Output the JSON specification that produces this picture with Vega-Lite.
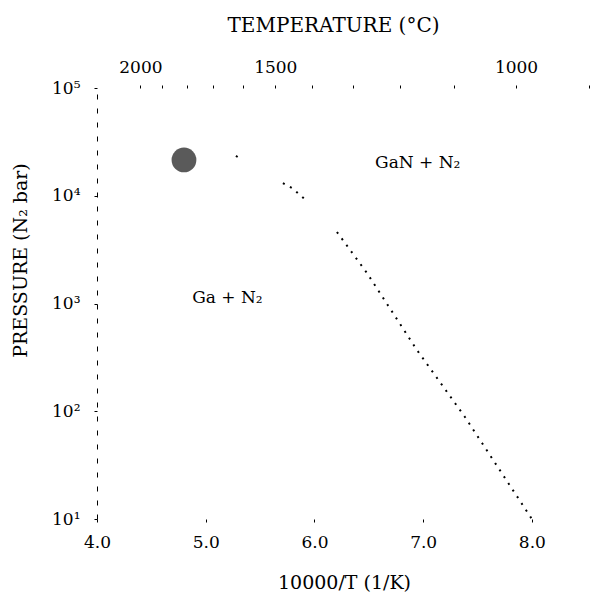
{
  "$schema": "https://vega.github.io/schema/vega-lite/v6.json",
  "width": 505,
  "height": 431,
  "autosize": "none",
  "padding": {"left": 97, "top": 88, "right": 5, "bottom": 73},
  "background": "white",
  "config": {
    "font": "DejaVu Serif",
    "view": {"stroke": null},
    "axis": {
      "labelFont": "DejaVu Serif",
      "titleFont": "DejaVu Serif",
      "labelColor": "black",
      "titleColor": "black",
      "tickColor": "black",
      "domainColor": "black",
      "grid": false,
      "titleFontWeight": "normal",
      "labelFlush": false,
      "labelOverlap": false
    }
  },
  "datasets": {
    "curve": [
      {"invT": 5.278, "pressure": 23400, "segment": "a"},
      {"invT": 5.324, "pressure": 21900, "segment": "a"},
      {"invT": 5.710, "pressure": 13100, "segment": "b"},
      {"invT": 5.793, "pressure": 11800, "segment": "b"},
      {"invT": 5.940, "pressure": 8750, "segment": "b"},
      {"invT": 6.207, "pressure": 4610, "segment": "c"},
      {"invT": 6.483, "pressure": 1920, "segment": "c"},
      {"invT": 6.943, "pressure": 370, "segment": "c"},
      {"invT": 7.384, "pressure": 88.5, "segment": "c"},
      {"invT": 8.0, "pressure": 10, "segment": "c"}
    ],
    "blob": [
      {"invT": 4.80, "pressure": 21500}
    ],
    "labels": [
      {"invT": 6.95, "pressure": 20100, "label": "GaN + N₂"},
      {"invT": 5.2, "pressure": 1125, "label": "Ga + N₂"}
    ]
  },
  "encoding": {
    "y": {
      "field": "pressure",
      "type": "quantitative",
      "scale": {"type": "log", "domain": [10, 100000], "nice": false},
      "axis": {
        "orient": "left",
        "values": [10, 100, 1000, 10000, 100000],
        "labelExpr": "datum.value >= 99999 ? '10⁵' : datum.value >= 9999 ? '10⁴' : datum.value >= 999 ? '10³' : datum.value >= 99 ? '10²' : '10¹'",
        "labelFontSize": 17,
        "tickSize": 3,
        "labelPadding": 14,
        "domainDash": [5, 9],
        "title": "PRESSURE (N₂ bar)",
        "titleFontSize": 19,
        "titleX": -77,
        "titleY": 172,
        "titleAngle": 270,
        "titleBaseline": "middle",
        "titleAlign": "center"
      }
    }
  },
  "layer": [
    {
      "data": {"name": "curve"},
      "mark": {"type": "line", "color": "black", "strokeWidth": 2, "strokeDash": [2, 6], "strokeCap": "butt"},
      "encoding": {
        "x": {
          "field": "invT",
          "type": "quantitative",
          "scale": {"domain": [4, 8.645], "nice": false, "zero": false},
          "axis": {
            "orient": "bottom",
            "values": [4, 5, 6, 7, 8],
            "format": ".1f",
            "labelFontSize": 17,
            "tickSize": 3,
            "labelPadding": 12,
            "domain": false,
            "title": "10000/T (1/K)",
            "titleFontSize": 19,
            "titleX": 247,
            "titleY": 63,
            "titleBaseline": "middle",
            "titleAlign": "center"
          }
        },
        "detail": {"field": "segment", "type": "nominal"}
      }
    },
    {
      "data": {"name": "blob"},
      "mark": {"type": "point", "filled": true, "color": "#5a5a5a", "size": 615, "opacity": 1},
      "encoding": {
        "x": {
          "field": "invT",
          "type": "quantitative",
          "scale": {"domain": [4, 8.645], "nice": false, "zero": false},
          "axis": null
        }
      }
    },
    {
      "data": {"name": "labels"},
      "mark": {"type": "text", "fontSize": 17, "font": "DejaVu Serif", "color": "black", "align": "center", "baseline": "middle"},
      "encoding": {
        "x": {
          "field": "invT",
          "type": "quantitative",
          "scale": {"domain": [4, 8.645], "nice": false, "zero": false},
          "axis": {
            "orient": "top",
            "values": [4.3995, 4.6017, 4.8237, 5.068, 5.339, 5.6398, 5.9774, 6.3561, 6.7889, 7.2818, 7.8544, 8.5239],
            "labelExpr": "abs(datum.value - 4.3995) < 0.001 ? '2000' : abs(datum.value - 5.6398) < 0.001 ? '1500' : abs(datum.value - 7.8544) < 0.001 ? '1000' : ''",
            "labelFontSize": 17,
            "tickSize": 3,
            "labelPadding": 9,
            "domain": false,
            "title": "TEMPERATURE (°C)",
            "titleFontSize": 20,
            "titleX": 236,
            "titleY": -63,
            "titleBaseline": "middle",
            "titleAlign": "center"
          }
        },
        "text": {"field": "label", "type": "nominal"}
      }
    }
  ],
  "resolve": {"scale": {"x": "independent"}, "axis": {"x": "independent"}}
}
